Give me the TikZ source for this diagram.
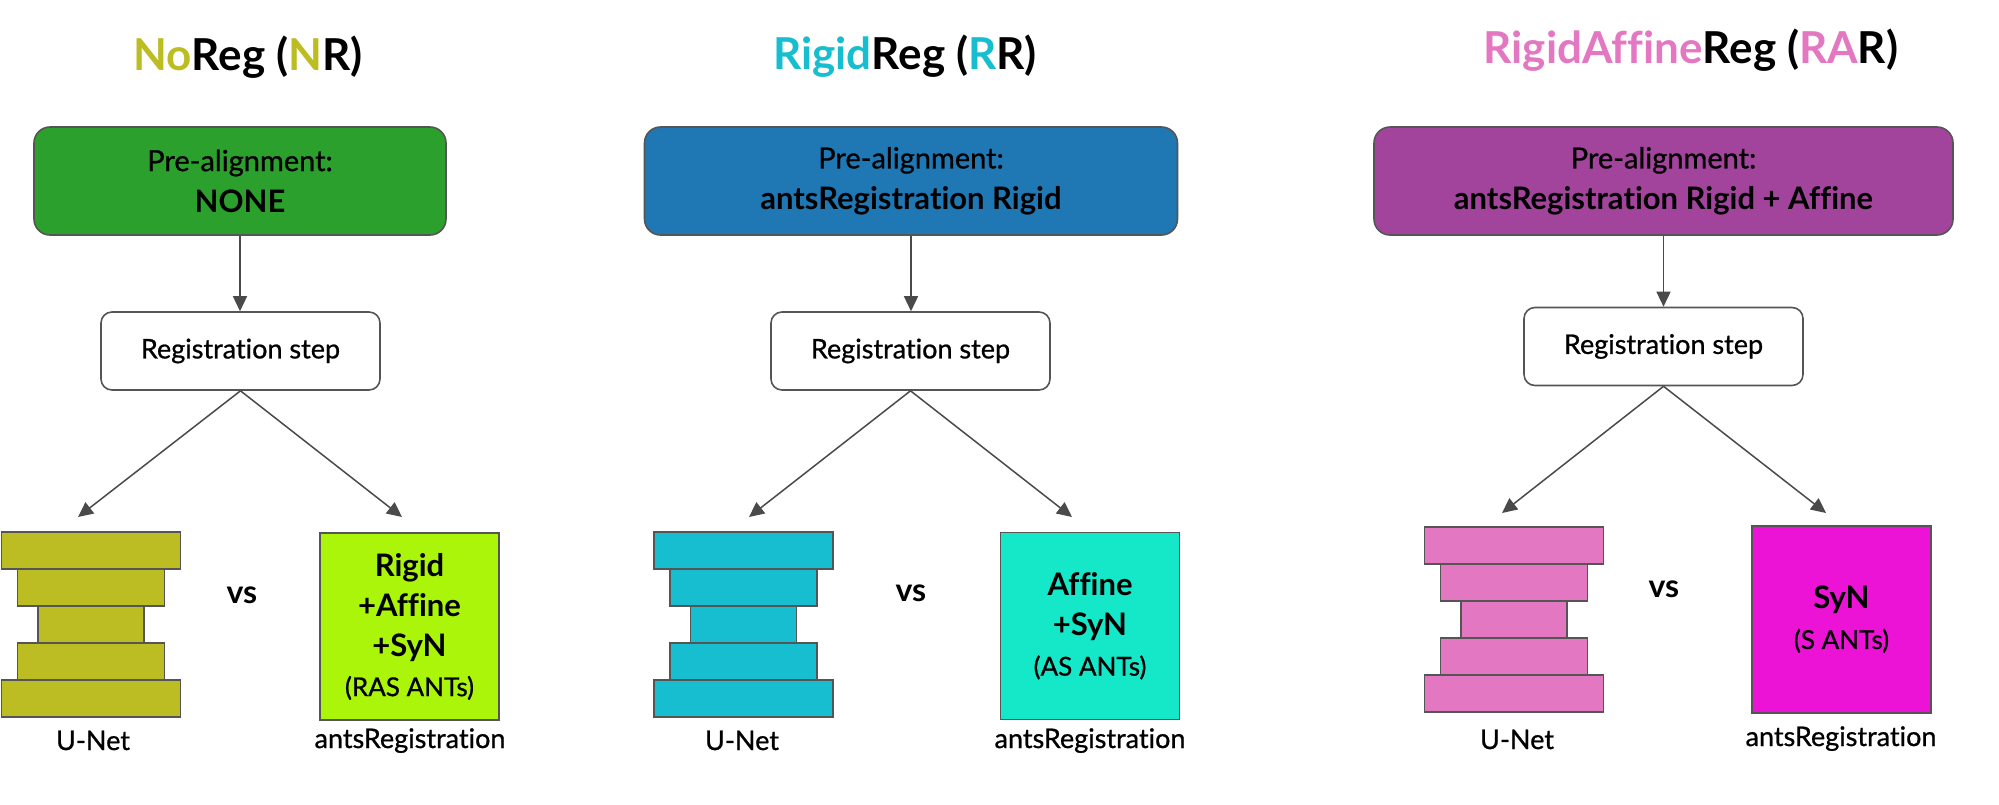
\documentclass[tikz,border=0pt]{standalone}
\usepackage{fontspec}
\setmainfont{Lato}[Ligatures=NoCommon, UprightFeatures={FakeBold=0.8}]
\usepackage{xcolor}
\usetikzlibrary{positioning, arrows.meta}

\definecolor{nrolive}{HTML}{BCBD22}
\definecolor{rrcyan}{HTML}{17BECF}
\definecolor{rarpink}{HTML}{E377C2}
\definecolor{nrgreen}{HTML}{2CA02C}
\definecolor{rrblue}{HTML}{1F77B4}
\definecolor{rarpurple}{HTML}{A2439C}
\definecolor{raslime}{HTML}{AAF50A}
\definecolor{asteal}{HTML}{14E8C9}
\definecolor{smagenta}{HTML}{EC12D6}
\definecolor{edgegray}{HTML}{555555}
\definecolor{arrowgray}{HTML}{4A4A4A}

% five stacked bars of a U-Net: name, x centre, top y, colour
\newcommand{\unetstack}[4]{
    \node[bar, fill=#4, minimum width=179pt] (#1a) at (#2, #3+18.5) {};
    \node[bar, fill=#4, minimum width=147pt, below=0pt of #1a] (#1b) {};
    \node[bar, fill=#4, minimum width=106pt, below=0pt of #1b] (#1c) {};
    \node[bar, fill=#4, minimum width=147pt, below=0pt of #1c] (#1d) {};
    \node[bar, fill=#4, minimum width=179pt, below=0pt of #1d] (#1e) {};
}

\begin{document}
\begin{tikzpicture}[
        x=1pt, y=-1pt,
        title/.style   = {anchor=base, font=\fontsize{44}{50}\selectfont\bfseries},
        prebox/.style  = {draw=edgegray, line width=1.6pt, rounded corners=16pt, minimum height=108pt, align=center, inner sep=0pt, font=\fontsize{29}{41}\selectfont},
        regbox/.style  = {draw=edgegray, line width=1.6pt, fill=white, rounded corners=11pt, minimum width=279pt, minimum height=78pt, inner sep=0pt, font=\fontsize{27}{30}\selectfont},
        methodbox/.style = {draw=edgegray, line width=1.6pt, minimum width=179pt, minimum height=187pt, align=center, inner sep=0pt, font=\fontsize{31}{40}\selectfont\bfseries},
        bar/.style     = {draw=edgegray, line width=1.6pt, minimum height=37pt, inner sep=0pt, outer sep=0pt},
        lbl/.style     = {anchor=base, font=\fontsize{27}{30}\selectfont},
        vstext/.style  = {anchor=base, font=\fontsize{32}{36}\selectfont\bfseries},
        arrow/.style   = {draw=arrowgray, line width=1.5pt, -{Triangle[length=15pt, width=14pt]}},
    ]
    \useasboundingbox (0,0) rectangle (1999,804);

    % NoReg
    \node[title] (t1) at (248,70) {\textcolor{nrolive}{No}Reg (\textcolor{nrolive}{N}R)};
    \node[prebox, fill=nrgreen, minimum width=412pt] (pre1) at (240,181) {Pre-alignment:\\\textbf{\fontsize{31}{41}\selectfont NONE}};
    \node[regbox] (reg1) at (240.5,351) {Registration step};
    \unetstack{u1}{91}{532}{nrolive}
    \node[methodbox, fill=raslime] (ants1) at (409.5,626.5) {Rigid\\+Affine\\+SyN\\{\fontsize{26}{30}\selectfont\mdseries (RAS ANTs)}};
    \node[vstext] (vs1) at (242,603) {vs};
    \node[lbl] (ul1) at (93,750) {U-Net};
    \node[lbl] (al1) at (410,748) {antsRegistration};
    \coordinate (tip1l) at (78,517);
    \coordinate (tip1r) at (402,517);
    \draw[arrow] (pre1.south) -- (pre1.south |- reg1.north);
    \draw[arrow] (reg1.south) -- (tip1l);
    \draw[arrow] (reg1.south) -- (tip1r);

    % RigidReg
    \node[title] (t2) at (905,69) {\textcolor{rrcyan}{Rigid}Reg (\textcolor{rrcyan}{R}R)};
    \node[prebox, fill=rrblue, minimum width=533pt] (pre2) at (911,181) {Pre-alignment:\\\textbf{\fontsize{31}{41}\selectfont antsRegistration Rigid}};
    \node[regbox] (reg2) at (910.5,351) {Registration step};
    \unetstack{u2}{743.5}{532}{rrcyan}
    \node[methodbox, fill=asteal] (ants2) at (1090,626) {Affine\\+SyN\\{\fontsize{26}{30}\selectfont\mdseries (AS ANTs)}};
    \node[vstext] (vs2) at (911,601) {vs};
    \node[lbl] (ul2) at (742,750) {U-Net};
    \node[lbl] (al2) at (1090,748) {antsRegistration};
    \coordinate (tip2l) at (749,517);
    \coordinate (tip2r) at (1072,517);
    \draw[arrow] (pre2.south) -- (pre2.south |- reg2.north);
    \draw[arrow] (reg2.south) -- (tip2l);
    \draw[arrow] (reg2.south) -- (tip2r);

    % RigidAffineReg
    \node[title] (t3) at (1691,63) {\textcolor{rarpink}{RigidAffine}Reg (\textcolor{rarpink}{RA}R)};
    \node[prebox, fill=rarpurple, minimum width=579pt] (pre3) at (1663.5,181) {Pre-alignment:\\\textbf{\fontsize{31}{41}\selectfont antsRegistration Rigid + Affine}};
    \node[regbox] (reg3) at (1663.5,346.5) {Registration step};
    \unetstack{u3}{1514}{527}{rarpink}
    \node[methodbox, fill=smagenta] (ants3) at (1841.5,619.5) {SyN\\{\fontsize{26}{30}\selectfont\mdseries (S ANTs)}};
    \node[vstext] (vs3) at (1664,597) {vs};
    \node[lbl] (ul3) at (1517,749) {U-Net};
    \node[lbl] (al3) at (1841,746) {antsRegistration};
    \coordinate (tip3l) at (1502,513);
    \coordinate (tip3r) at (1826,513);
    \draw[arrow] (pre3.south) -- (pre3.south |- reg3.north);
    \draw[arrow] (reg3.south) -- (tip3l);
    \draw[arrow] (reg3.south) -- (tip3r);
\end{tikzpicture}
\end{document}
